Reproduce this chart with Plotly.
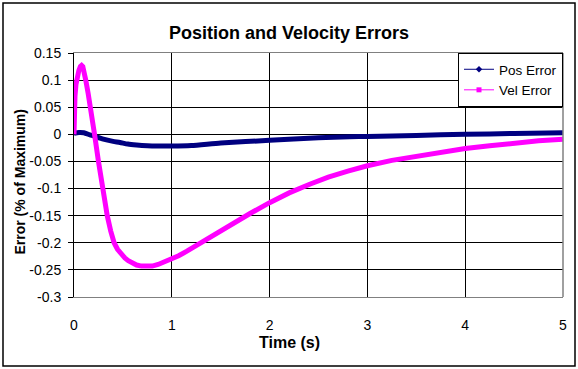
import plotly.graph_objects as go

# ---- data ----
pos_t = [0, 0.05, 0.1, 0.164, 0.2, 0.3, 0.4, 0.47, 0.55, 0.64, 0.75, 0.85, 1.0, 1.2,
         1.5, 2.0, 2.5, 2.82, 3.0, 3.5, 4.0, 4.5, 5.0]
pos_err = [0.002, 0.0035, 0.003, -0.001, -0.003, -0.009, -0.013, -0.015, -0.018, -0.0197,
           -0.021, -0.0215, -0.0215, -0.0205, -0.016, -0.011, -0.0065, -0.0045, -0.004,
           -0.002, 0.0, 0.0015, 0.003]

vel_t = [0, 0.003, 0.01, 0.02, 0.035, 0.05, 0.065, 0.078, 0.09, 0.105, 0.12, 0.145,
         0.17, 0.21, 0.25, 0.29, 0.34, 0.375, 0.41, 0.445, 0.48, 0.52, 0.555, 0.6, 0.64,
         0.69, 0.74, 0.8, 0.86, 0.93, 1.0, 1.07, 1.15, 1.25, 1.35, 1.5, 1.65, 1.8, 2.0,
         2.2, 2.41, 2.6, 2.8, 3.0, 3.25, 3.5, 3.75, 4.0, 4.25, 4.5, 4.75, 5.0]
vel_err = [0, 0.04, 0.07, 0.092, 0.108, 0.118, 0.125, 0.127, 0.125, 0.115, 0.1, 0.075,
           0.05, 0.0, -0.05, -0.1, -0.15, -0.178, -0.2, -0.212, -0.221, -0.228, -0.233,
           -0.238, -0.241, -0.243, -0.244, -0.243, -0.240, -0.235, -0.229, -0.224, -0.216,
           -0.205, -0.193, -0.178, -0.162, -0.146, -0.126, -0.108, -0.092, -0.079, -0.068,
           -0.058, -0.048, -0.040, -0.032, -0.026, -0.021, -0.016, -0.012, -0.009]

x_ticks = [0, 1, 2, 3, 4, 5]
y_ticks = [0.15, 0.1, 0.05, 0, -0.05, -0.1, -0.15, -0.2, -0.25, -0.3]
y_tick_text = ["0.15", "0.1", "0.05", "0", "-0.05", "-0.1", "-0.15", "-0.2", "-0.25", "-0.3"]

series_names = ["Pos Error", "Vel Error"]
NAVY = "#000080"
MAGENTA = "#FF00FF"
FONT = "Liberation Sans, Arial, sans-serif"

fig = go.Figure()
fig.add_trace(go.Scatter(x=pos_t, y=pos_err, mode="lines", name=series_names[0],
                         line=dict(color=NAVY, width=5, shape="spline", smoothing=0.6),
                         showlegend=False))
fig.add_trace(go.Scatter(x=vel_t, y=vel_err, mode="lines", name=series_names[1],
                         line=dict(color=MAGENTA, width=5, shape="linear"),
                         showlegend=False))
# legend entries (thin line with marker, Excel style)
fig.add_trace(go.Scatter(x=[None], y=[None], mode="lines+markers", name=series_names[0],
                         line=dict(color=NAVY, width=1),
                         marker=dict(symbol="diamond", size=5, color=NAVY)))
fig.add_trace(go.Scatter(x=[None], y=[None], mode="lines+markers", name=series_names[1],
                         line=dict(color=MAGENTA, width=1),
                         marker=dict(symbol="square", size=5, color=MAGENTA)))

L, R, T, B = 74, 15, 53, 72
W, H = 578, 369
pw, ph = W - L - R, H - T - B

def px_x(x):
    return (x - L) / pw

def px_y(y):
    return (H - B - y) / ph

fig.update_layout(
    width=W, height=H,
    margin=dict(l=L, r=R, t=T, b=B),
    paper_bgcolor="white", plot_bgcolor="white",
    font=dict(family=FONT, size=14, color="black"),
    title=dict(text="<b>Position and Velocity Errors</b>", x=0.5, xanchor="center",
               xref="container", y=1 - 33 / H, yanchor="middle", yref="container",
               font=dict(size=18, family=FONT, color="black")),
    xaxis=dict(range=[0, 5], tickvals=x_ticks, showgrid=True, gridcolor="black",
               gridwidth=1, zeroline=False, showline=True, linecolor="#808080",
               linewidth=1, mirror=True, ticks="", ticklabelstandoff=15,
               tickfont=dict(size=14, family=FONT, color="black")),
    yaxis=dict(range=[-0.3, 0.15], tickvals=y_ticks, ticktext=y_tick_text,
               showgrid=True, gridcolor="black", gridwidth=1, zeroline=False,
               showline=True, linecolor="black", linewidth=1, mirror=False,
               ticks="outside", ticklen=5, tickcolor="black", ticklabelstandoff=4,
               tickfont=dict(size=14, family=FONT, color="black")),
    legend=dict(x=1, xanchor="right", y=1, yanchor="top", bgcolor="white",
                bordercolor="black", borderwidth=1, itemwidth=30,
                font=dict(size=13.5, family=FONT, color="black"),
                tracegroupgap=0),
    showlegend=True,
    annotations=[
        dict(text="<b>Error (% of Maximum)</b>", xref="paper", yref="paper",
             x=px_x(19), y=px_y(182.5), textangle=-90, showarrow=False,
             xanchor="center", yanchor="middle",
             font=dict(size=14, family=FONT, color="black")),
        dict(text="<b>Time (s)</b>", xref="paper", yref="paper",
             x=px_x(289), y=px_y(342), showarrow=False,
             xanchor="center", yanchor="middle",
             font=dict(size=16, family=FONT, color="black")),
    ],
    shapes=[
        dict(type="line", xref="paper", yref="paper", x0=1, x1=1, y0=0, y1=1,
             line=dict(color="#808080", width=1.5), layer="above"),
        dict(type="rect", xref="paper", yref="paper",
             x0=px_x(3), x1=px_x(575), y0=px_y(366), y1=px_y(3),
             line=dict(color="black", width=1.5), layer="above"),
    ],
)

fig.write_html("out.html", config={"displayModeBar": False},
               post_script="document.body.style.margin='0';document.body.style.padding='0';")
